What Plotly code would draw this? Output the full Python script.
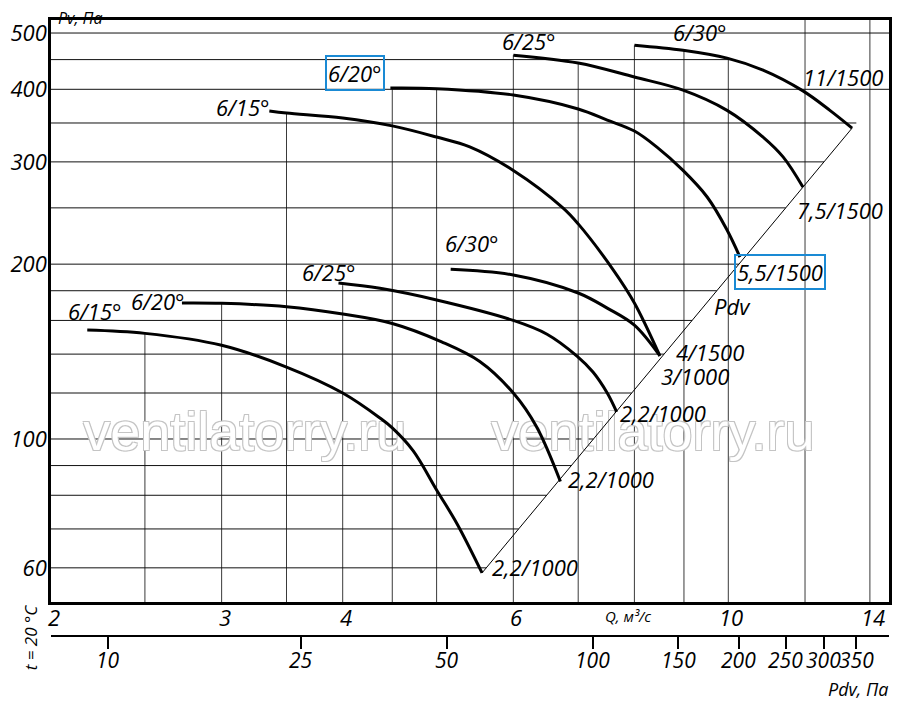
import numpy as np
import plotly.graph_objects as go

FONT = 'Open Sans, DejaVu Sans, sans-serif'

# fan curves, Q in m3/s and Pv in Pa
low_15_q = [2.18, 2.5, 3.0, 3.5, 4.0, 4.37, 4.5, 4.73, 5.0, 5.25, 5.57]
low_15_pv = [154, 152, 145, 133, 120, 108.7, 104.5, 95.4, 81.7, 71.4, 58.8]

low_20_q = [2.73, 3.0, 3.5, 4.0, 4.5, 5.06, 5.54, 6.0, 6.34, 6.71]
low_20_pv = [171.4, 171.2, 168.9, 164.1, 158.1, 147, 136, 120, 105, 84.5]

low_25_q = [3.96, 4.37, 5.0, 6.0, 6.5, 6.98, 7.25, 7.5, 7.67]
low_25_pv = [185.6, 181.7, 173.5, 160, 151.5, 138.9, 130.4, 120, 111.3]

low_30_q = [5.17, 6.0, 7.0, 7.5, 8.0, 8.5]
low_30_pv = [196, 191.6, 178.4, 168, 157, 139]

up_15_q = [3.36, 3.5, 4.0, 4.5, 5.0, 5.41, 6.0, 6.75, 7.0, 7.61, 8.0, 8.5]
up_15_pv = [367, 364, 357, 346, 331, 318.4, 290, 250, 234.6, 195.4, 171.5, 139]

up_20_q = [4.48, 5.0, 6.0, 7.0, 7.5, 8.0, 8.44, 8.98, 9.51, 9.97, 10.28]
up_20_pv = [402, 401, 391, 370, 354, 339, 318, 290, 261, 229, 205.7]

up_25_q = [6.0, 7.0, 8.0, 8.98, 9.97, 10.86, 11.39, 11.94]
up_25_pv = [458, 444, 420, 398.7, 368, 331, 306, 271.5]

up_30_q = [8.0, 8.98, 9.97, 10.86, 11.94, 12.73, 13.42]
up_30_pv = [476.5, 467, 452.6, 431.6, 397.5, 368, 343]

# axes
q_ticks = [2, 3, 4, 6, 10, 14]
pv_ticks = [60, 100, 200, 300, 400, 500]
pdv_ticks = [10, 25, 50, 100, 150, 200, 250, 300, 350]
q_min, q_max = 2, 14.65
pv_min, pv_max = 52.4, 526.5

# grid of the nomogram (vertical lines stop under the curves)
vgrid_q = [2.5, 3, 3.5, 4, 4.5, 5, 6, 7, 8, 9, 10, 12, 14]
vgrid_top = [152, 172, 364, 184, 402, 402, 458, 444, 476, 467, 452, None, None]
hgrid_pv = [500, 450, 400, 350, 300, 250, 200, 180, 160, 140, 120, 100, 90, 80, 70, 60]
hgrid_full = [500, 400]

curves = [(low_15_q, low_15_pv), (low_20_q, low_20_pv), (low_25_q, low_25_pv),
          (low_30_q, low_30_pv), (up_15_q, up_15_pv), (up_20_q, up_20_pv),
          (up_25_q, up_25_pv), (up_30_q, up_30_pv)]

# Pdv line goes through the ends of the lowest and highest curves
p1 = (low_15_q[-1], low_15_pv[-1])
p2 = (up_30_q[-1], up_30_pv[-1])
slope = np.log10(p2[1] / p1[1]) / np.log10(p2[0] / p1[0])
k_pdv = up_30_pv[-1] / up_30_q[-1] ** 2

fig = go.Figure()

# watermark under everything
fig.add_trace(go.Scatter(
    x=[3.17, 8.36], y=[100.8, 100.8], mode='text', text=['ventilatorry.ru'] * 2,
    textposition='middle center', hoverinfo='skip', showlegend=False,
    textfont=dict(family='Liberation Sans, Arial, sans-serif', size=54, color='white',
                  shadow='1px 1px 0 #c4c4c4, -1px -1px 0 #c4c4c4, 1px -1px 0 #c4c4c4, -1px 1px 0 #c4c4c4')))

for q, pv in curves:
    fig.add_trace(go.Scatter(x=q, y=pv, mode='lines', line=dict(color='black', width=3, shape='spline', smoothing=1.0),
                             hoverinfo='skip', showlegend=False))

fig.add_trace(go.Scatter(x=[p1[0], p2[0]], y=[p1[1], p2[1]], mode='lines',
                         line=dict(color='black', width=1), hoverinfo='skip', showlegend=False))

# dummy trace so the Pdv axis is drawn
fig.add_trace(go.Scatter(x=pdv_ticks, y=[100] * len(pdv_ticks), xaxis='x2', mode='markers',
                         marker=dict(opacity=0), hoverinfo='skip', showlegend=False))

shapes = []
for q, top in zip(vgrid_q, vgrid_top):
    shapes.append(dict(type='line', xref='x', yref='y', x0=q, x1=q, y0=pv_min,
                       y1=top if top else pv_max, line=dict(color='#3a3a3a', width=1), layer='below'))

# the 450 line ends where the top curve crosses it
q450 = np.interp(np.log10(450), np.log10(up_30_pv[::-1]), up_30_q[::-1])
for pv in hgrid_pv:
    if pv in hgrid_full:
        end = q_max
    elif pv > 400:
        end = q450
    else:
        end = p1[0] * (pv / p1[1]) ** (1 / slope)
    shapes.append(dict(type='line', xref='x', yref='y', x0=q_min, x1=end, y0=pv, y1=pv,
                       line=dict(color='#111', width=1), layer='below'))


def italic(size):
    return dict(family=FONT, size=size, color='black', style='italic')


def label(q, pv, text, dx, dy, size=22, boxed=False):
    a = dict(x=np.log10(q), y=np.log10(pv), xref='x', yref='y', text=text, showarrow=False,
             xshift=dx, yshift=dy, font=italic(size))
    if boxed:
        a.update(bordercolor='#1a8ad4', borderwidth=2, borderpad=1)
    return a


def note(x, y, text, size, angle=0):
    return dict(x=x, y=y, xref='paper', yref='paper', text=text, showarrow=False, textangle=angle,
                xanchor='center', yanchor='middle', font=italic(size))


ann = [
    label(low_15_q[0], low_15_pv[0], '6/15°', 8, 19),
    label(low_20_q[0], low_20_pv[0], '6/20°', -24, 2),
    label(low_25_q[0], low_25_pv[0], '6/25°', -9, 11),
    label(low_30_q[0], low_30_pv[0], '6/30°', 21, 26),
    label(up_15_q[0], up_15_pv[0], '6/15°', -26, 4),
    label(up_20_q[0], up_20_pv[0], '6/20°', -35, 15, boxed=True),
    label(up_25_q[0], up_25_pv[0], '6/25°', 16, 14),
    label(up_30_q[0], up_30_pv[0], '6/30°', 66, 13),
    label(up_30_q[-1], up_30_pv[-1], '11/1500', -9, 51),
    label(up_25_q[-1], up_25_pv[-1], '7,5/1500', 37, -23),
    label(up_20_q[-1], up_20_pv[-1], '5,5/1500', 40, -15, boxed=True),
    label(up_20_q[-1], up_20_pv[-1], 'Pdv', -7, -49),
    label(up_15_q[-1], up_15_pv[-1], '4/1500', 50, 4),
    label(low_30_q[-1], low_30_pv[-1], '3/1000', 35, -20),
    label(low_25_q[-1], low_25_pv[-1], '2,2/1000', 46, -1),
    label(low_20_q[-1], low_20_pv[-1], '2,2/1000', 51, 2),
    label(low_15_q[-1], low_15_pv[-1], '2,2/1000', 53, 6),
    note(0.0346, 1.004, 'Pv, Па', 16),
    note(0.963, -0.086, 'Pdv, Па', 18),
    note(0.6885, 0.0325, 'Q, м³/с', 15),
    note(-0.025, -0.002, 't = 20 °C', 17, -90),
]

# tick labels of the two bottom scales, placed on their own axes
for v in q_ticks:
    ann.append(dict(x=np.log10(v), y=0.0308, xref='x', yref='paper', text=str(v), showarrow=False,
                    xanchor='center', yanchor='middle', xshift=3, font=italic(22)))
for v in pdv_ticks:
    ann.append(dict(x=np.log10(v), y=-0.039, xref='x2', yref='paper', text=str(v), showarrow=False,
                    xanchor='center', yanchor='middle', font=italic(21)))

# the page adds an 8 px body margin, the margins below make up for it
fig.update_layout(
    width=900, height=706,
    margin=dict(l=43, r=19, t=12, b=78),
    paper_bgcolor='white', plot_bgcolor='white',
    showlegend=False,
    shapes=shapes,
    annotations=ann,
    xaxis=dict(type='log', range=[np.log10(q_min), np.log10(q_max)], showticklabels=False,
               showgrid=False, zeroline=False, showline=True, mirror=True, linecolor='black',
               linewidth=2.5, ticks='', automargin=False),
    yaxis=dict(type='log', range=[np.log10(pv_min), np.log10(pv_max)], domain=[34 / 616, 1],
               tickvals=pv_ticks, ticktext=[str(v) for v in pv_ticks], showgrid=False,
               zeroline=False, showline=True, mirror=True, linecolor='black', linewidth=2.5,
               ticks='', tickfont=italic(22), ticklabelstandoff=-3, automargin=False),
    xaxis2=dict(type='log', overlaying='x', anchor='free', position=0,
                range=[np.log10(k_pdv * q_min ** 2), np.log10(k_pdv * q_max ** 2)],
                tickvals=pdv_ticks, showticklabels=False, showgrid=False,
                zeroline=False, showline=True, linecolor='black', linewidth=2,
                ticks='outside', ticklen=12, tickwidth=1.5, tickcolor='black', automargin=False),
)

fig.write_html("out.html")
